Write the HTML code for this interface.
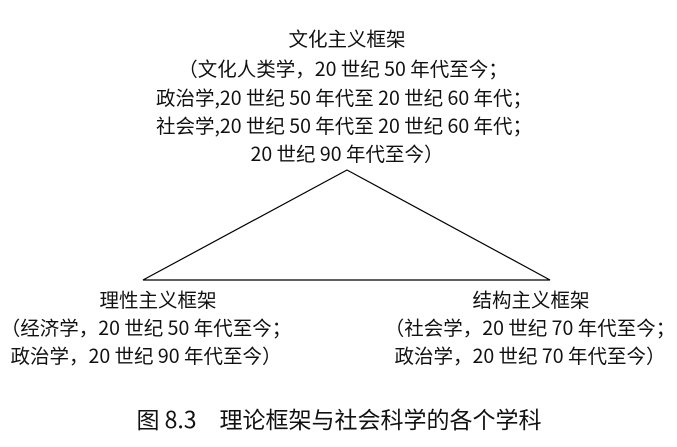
<!DOCTYPE html>
<html><head><meta charset="utf-8"><style>
html,body{margin:0;padding:0;background:#fff;}
body{width:677px;height:447px;position:relative;overflow:hidden;font-family:"Noto Sans CJK SC","Liberation Sans",sans-serif;color:#111;}
.t{position:absolute;white-space:nowrap;font-size:19.5px;line-height:22px;transform:translateX(-50%);}
</style></head><body>
<svg width="677" height="447" style="position:absolute;left:0;top:0">
<polygon points="347,170 143,280 550,280" fill="none" stroke="#000" stroke-width="1.2"/>
</svg>
<div class="t" style="left:347px;top:27px">文化主义框架</div>
<div class="t" style="left:343px;top:57px">（文化人类学，20 世纪 50 年代至今；</div>
<div class="t" style="left:344px;top:86px">政治学,20 世纪 50 年代至 20 世纪 60 年代；</div>
<div class="t" style="left:344px;top:114px">社会学,20 世纪 50 年代至 20 世纪 60 年代；</div>
<div class="t" style="left:347px;top:142px">20 世纪 90 年代至今）</div>
<div class="t" style="left:158px;top:288px">理性主义框架</div>
<div class="t" style="left:146px;top:316px">（经济学，20 世纪 50 年代至今；</div>
<div class="t" style="left:146px;top:344px">政治学，20 世纪 90 年代至今）</div>
<div class="t" style="left:531px;top:288px">结构主义框架</div>
<div class="t" style="left:530px;top:316px">（社会学，20 世纪 70 年代至今；</div>
<div class="t" style="left:530px;top:344px">政治学，20 世纪 70 年代至今）</div>
<div class="t" style="left:339px;top:404px;font-size:23px;line-height:28px">图 8.3　理论框架与社会科学的各个学科</div>
</body></html>
